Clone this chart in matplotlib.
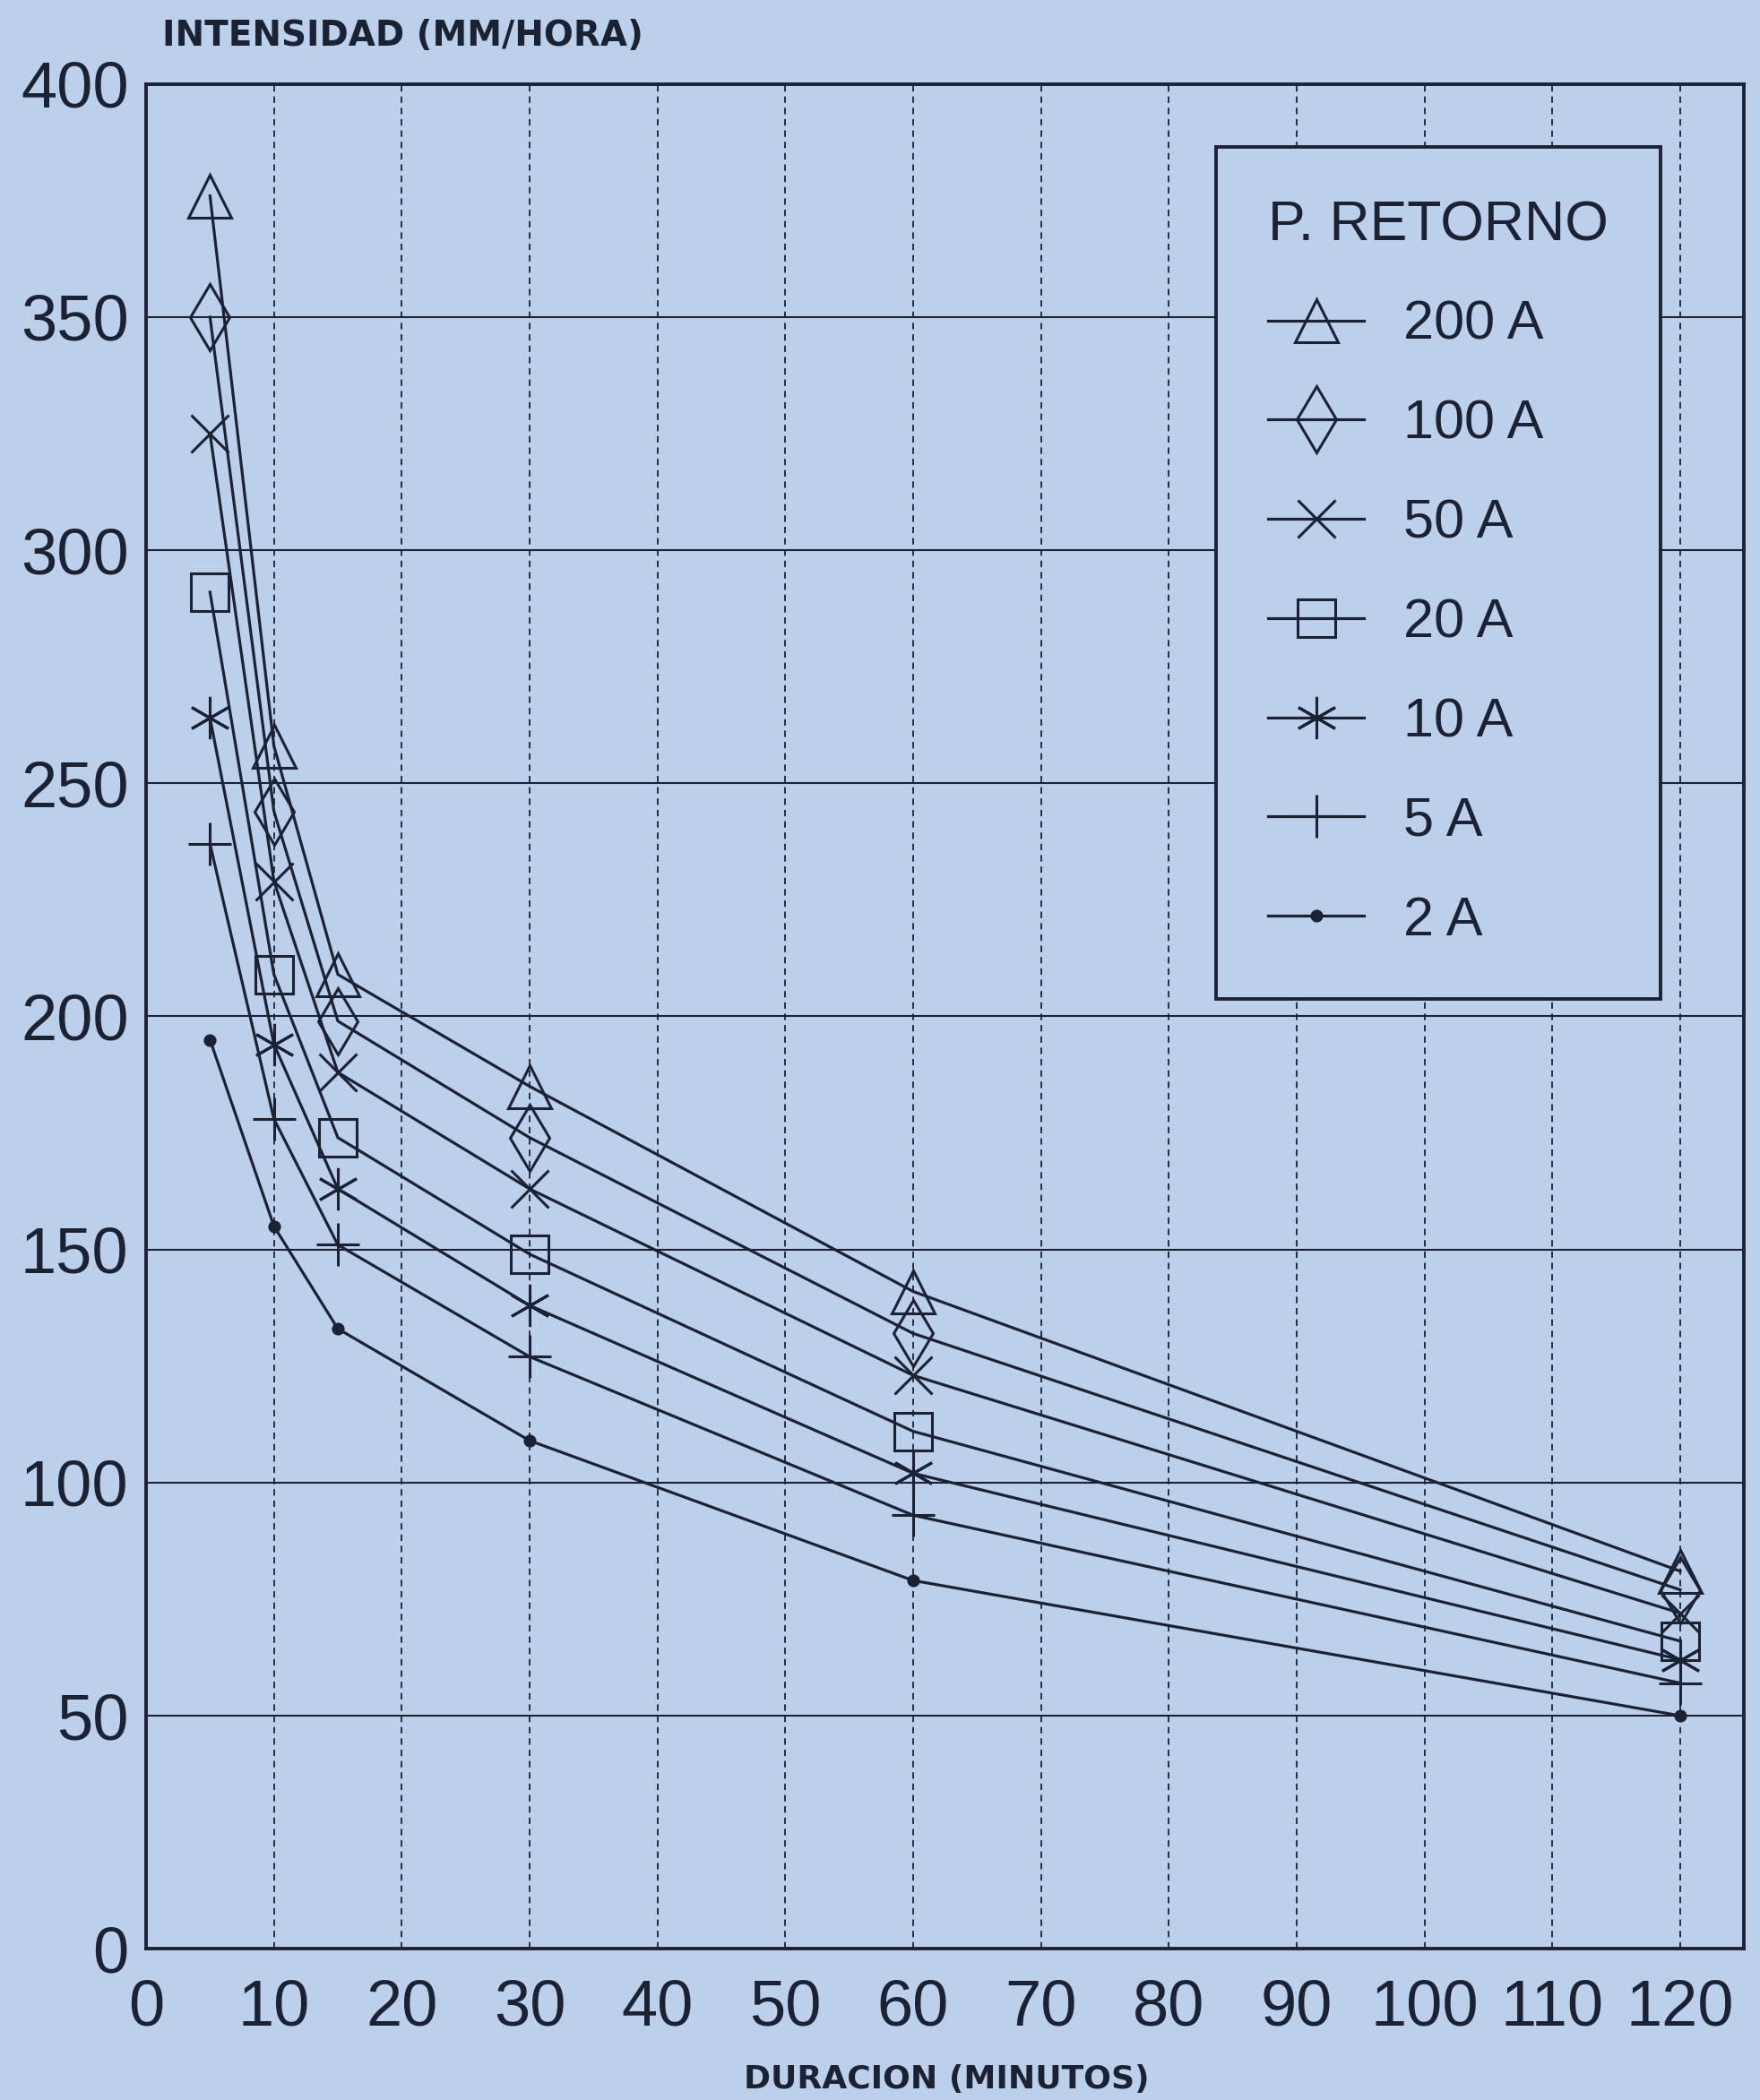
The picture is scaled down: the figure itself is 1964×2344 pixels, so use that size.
import matplotlib
matplotlib.use('Agg')
import matplotlib.pyplot as plt

# ========== COLOURS ==========
BG = '#bdd0eb'    # scanned paper, bluish
INK = '#1b2233'

# ========== DATA ==========
durations = [5, 10, 15, 30, 60, 120]   # minutos

labels = ['200 A', '100 A', '50 A', '20 A', '10 A', '5 A', '2 A']
i_200 = [376, 258, 209, 185, 141, 81]
i_100 = [350, 244, 199, 174, 132, 77]
i_50 = [325, 229, 188, 163, 123, 72]
i_20 = [291, 209, 174, 149, 111, 66]
i_10 = [264, 194, 163, 138, 102, 62]
i_5 = [237, 178, 151, 127, 93, 57]
i_2 = [195, 155, 133, 109, 79, 50]
series = [i_200, i_100, i_50, i_20, i_10, i_5, i_2]

x_ticks = list(range(0, 121, 10))
y_ticks = list(range(0, 401, 50))

markers = ['^', 'd', 'x', 's', (6, 2, 0), '+', 'o']
msizes = [34, 38, 30, 30, 34, 34, 8]

plt.rcParams['font.family'] = ['Liberation Sans', 'DejaVu Sans']

fig = plt.figure(figsize=(19.64, 23.44), dpi=100, facecolor=BG)
ax = fig.add_axes([0.083, 0.072, 0.908, 0.888])
ax.set_facecolor(BG)

for vals, lab, m, s in zip(series, labels, markers, msizes):
    face = INK if m == 'o' else 'none'
    ax.plot(durations, vals, color=INK, lw=2.3, marker=m, ms=s, mfc=face,
            mec=INK, mew=2.2, label=lab, zorder=3)

ax.set_xlim(0, 125)
ax.set_ylim(0, 400)
ax.set_xticks(x_ticks)
ax.set_yticks(y_ticks)

# grid: solid horizontals, dashed verticals
ax.yaxis.grid(True, color=INK, lw=1.5, ls='-')
ax.xaxis.grid(True, color=INK, lw=1.3, ls=(0, (4, 3)))
ax.set_axisbelow(True)

for sp in ax.spines.values():
    sp.set_linewidth(2.8)
    sp.set_color(INK)

ax.tick_params(axis='both', length=0, labelsize=52, labelcolor=INK)
ax.tick_params(axis='x', pad=24)
ax.tick_params(axis='y', pad=14)

leg = ax.legend(title='P. RETORNO', loc='upper left', bbox_to_anchor=(0.691, 0.930),
                bbox_transform=fig.transFigure, borderaxespad=0,
                prop={'family': 'Liberation Sans', 'size': 44},
                title_fontproperties={'family': 'Liberation Sans', 'size': 45},
                fancybox=False, edgecolor=INK, facecolor=BG, framealpha=1,
                handlelength=1.75, handletextpad=0.72, labelspacing=0.88,
                borderpad=0.95, alignment='left')
leg.get_frame().set_linewidth(2.8)
leg.get_title().set_color(INK)
for t in leg.get_texts():
    t.set_color(INK)

fig.text(0.092, 0.983, 'INTENSIDAD (MM/HORA)', fontsize=28, fontweight='bold',
         family='DejaVu Sans', color=INK, va='center', ha='left')
fig.text(0.538, 0.0098, 'DURACION (MINUTOS)', fontsize=26, fontweight='bold',
         family='DejaVu Sans', color=INK, va='center', ha='center')

plt.savefig('out.png', dpi=100, facecolor=BG)
